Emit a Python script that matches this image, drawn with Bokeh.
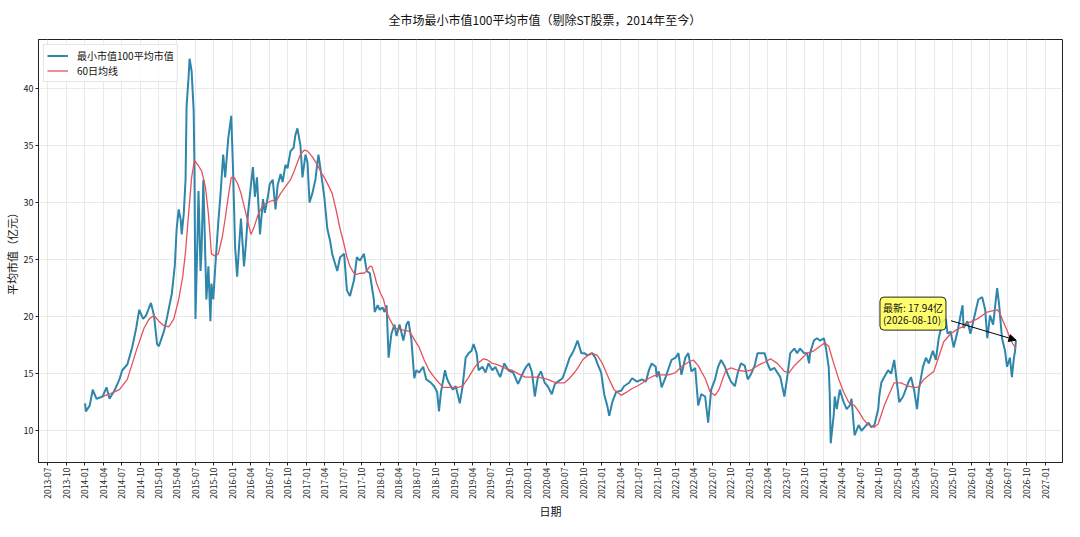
import math
import pandas as pd
from bokeh.plotting import figure
from bokeh.models import (Range1d, DatetimeTickFormatter, MonthsTicker, SingleIntervalTicker,
                          Label, Arrow, NormalHead, Legend, LegendItem)
from bokeh.embed import file_html
from bokeh.resources import INLINE

FONT = "Noto Sans CJK SC"

TITLE = "全市场最小市值100平均市值（剔除ST股票，2014年至今）"
Y_LABEL = "平均市值（亿元）"
X_LABEL = "日期"
SERIES_NAME = "最小市值100平均市值"
MA_NAME = "60日均线"

# ---- average market value of the 100 smallest stocks ----
dates = [
    "2014-01-02", "2014-01-06", "2014-01-25", "2014-02-09", "2014-02-28", "2014-03-30", "2014-04-18",
    "2014-05-03", "2014-05-27", "2014-06-21", "2014-07-05", "2014-07-30", "2014-08-23", "2014-09-12",
    "2014-09-27", "2014-10-16", "2014-10-31", "2014-11-15", "2014-11-24", "2014-12-09", "2014-12-24",
    "2015-01-02", "2015-01-27", "2015-02-10", "2015-03-07", "2015-03-22", "2015-03-31", "2015-04-10",
    "2015-04-20", "2015-04-25", "2015-05-05", "2015-05-14", "2015-05-19", "2015-05-29", "2015-06-03",
    "2015-06-13", "2015-06-23", "2015-06-27", "2015-07-02", "2015-07-12", "2015-07-17", "2015-07-27",
    "2015-08-01", "2015-08-10", "2015-08-20", "2015-08-25", "2015-09-04", "2015-09-14", "2015-09-19",
    "2015-09-28", "2015-10-08", "2015-10-23", "2015-11-02", "2015-11-16", "2015-11-26", "2015-12-11",
    "2015-12-26", "2016-01-04", "2016-01-14", "2016-01-24", "2016-02-02", "2016-02-12", "2016-02-27",
    "2016-03-08", "2016-03-18", "2016-04-01", "2016-04-11", "2016-04-21", "2016-05-01", "2016-05-16",
    "2016-05-31", "2016-06-09", "2016-06-24", "2016-07-03", "2016-07-18", "2016-08-01", "2016-08-11",
    "2016-08-26", "2016-09-05", "2016-09-19", "2016-09-29", "2016-10-14", "2016-10-29", "2016-11-07",
    "2016-11-17", "2016-12-02", "2016-12-12", "2016-12-27", "2017-01-06", "2017-01-16", "2017-01-30",
    "2017-02-14", "2017-03-01", "2017-03-10", "2017-03-20", "2017-03-30", "2017-04-14", "2017-04-28",
    "2017-05-08", "2017-05-18", "2017-06-02", "2017-06-16", "2017-07-06", "2017-07-20", "2017-08-04",
    "2017-08-24", "2017-09-07", "2017-09-22", "2017-10-12", "2017-10-26", "2017-11-10", "2017-11-30",
    "2017-12-04", "2017-12-19", "2017-12-29", "2018-01-12", "2018-01-22", "2018-02-01", "2018-02-11",
    "2018-02-25", "2018-03-12", "2018-03-22", "2018-04-06", "2018-04-25", "2018-05-10", "2018-05-20",
    "2018-06-03", "2018-06-18", "2018-06-28", "2018-07-12", "2018-08-01", "2018-08-16", "2018-09-09",
    "2018-09-24", "2018-10-09", "2018-10-18", "2018-10-28", "2018-11-17", "2018-11-26", "2018-12-06",
    "2018-12-26", "2019-01-09", "2019-01-29", "2019-02-12", "2019-02-27", "2019-03-14", "2019-03-28",
    "2019-04-07", "2019-04-22", "2019-05-02", "2019-05-21", "2019-06-05", "2019-06-20", "2019-07-09",
    "2019-07-24", "2019-08-08", "2019-08-17", "2019-09-06", "2019-09-26", "2019-10-20", "2019-11-13",
    "2019-12-08", "2019-12-23", "2020-01-06", "2020-01-21", "2020-02-04", "2020-02-19", "2020-03-05",
    "2020-03-24", "2020-04-08", "2020-04-28", "2020-05-13", "2020-05-28", "2020-06-20", "2020-07-10",
    "2020-07-25", "2020-08-08", "2020-08-18", "2020-09-02", "2020-09-21", "2020-10-06", "2020-10-21",
    "2020-11-14", "2020-11-29", "2020-12-09", "2020-12-28", "2021-01-13", "2021-01-27", "2021-02-06",
    "2021-02-21", "2021-03-12", "2021-04-06", "2021-04-20", "2021-05-15", "2021-05-30", "2021-06-23",
    "2021-07-18", "2021-08-06", "2021-08-21", "2021-09-04", "2021-09-24", "2021-09-29", "2021-10-09",
    "2021-10-23", "2021-11-12", "2021-11-27", "2021-12-11", "2021-12-31", "2022-01-14", "2022-01-29",
    "2022-02-17", "2022-03-04", "2022-03-19", "2022-04-07", "2022-04-22", "2022-05-07", "2022-05-26",
    "2022-06-10", "2022-06-25", "2022-07-14", "2022-07-29", "2022-08-13", "2022-09-01", "2022-09-16",
    "2022-10-01", "2022-10-20", "2022-11-04", "2022-11-19", "2022-12-08", "2022-12-23", "2023-01-06",
    "2023-01-26", "2023-02-09", "2023-02-24", "2023-03-16", "2023-03-30", "2023-04-14", "2023-05-04",
    "2023-05-18", "2023-06-02", "2023-06-22", "2023-07-06", "2023-07-21", "2023-08-10", "2023-08-24",
    "2023-09-08", "2023-09-27", "2023-10-12", "2023-10-22", "2023-10-27", "2023-11-15", "2023-11-30",
    "2023-12-15", "2024-01-03", "2024-01-13", "2024-01-27", "2024-02-01", "2024-02-06", "2024-02-21",
    "2024-02-26", "2024-03-07", "2024-03-22", "2024-04-10", "2024-04-25", "2024-05-10", "2024-05-19",
    "2024-06-03", "2024-06-23", "2024-07-07", "2024-07-22", "2024-08-11", "2024-08-25", "2024-09-09",
    "2024-09-28", "2024-10-03", "2024-10-13", "2024-10-28", "2024-11-16", "2024-12-01", "2024-12-16",
    "2024-12-26", "2025-01-10", "2025-01-29", "2025-02-23", "2025-03-09", "2025-03-24", "2025-04-08",
    "2025-04-17", "2025-05-07", "2025-05-22", "2025-06-05", "2025-06-25", "2025-07-10", "2025-07-24",
    "2025-08-13", "2025-08-28", "2025-09-06", "2025-09-21", "2025-10-06", "2025-10-25", "2025-11-09",
    "2025-11-19", "2025-11-24", "2025-12-13", "2025-12-28", "2026-01-11", "2026-02-05", "2026-02-24",
    "2026-03-11", "2026-03-21", "2026-04-04", "2026-04-19", "2026-05-09", "2026-05-19", "2026-06-02",
    "2026-06-17", "2026-06-27", "2026-07-11", "2026-07-21", "2026-07-31", "2026-08-05", "2026-08-10",
]
values = [
    12.4, 11.7, 12.2, 13.6, 12.8, 13.0, 13.8,
    12.8, 13.5, 14.5, 15.3, 15.8, 17.3, 19.0,
    20.6, 19.8, 20.1, 20.8, 21.2, 20.1, 17.6,
    17.4, 18.7, 19.8, 22.0, 24.5, 27.7, 29.4,
    28.5, 27.2, 29.0, 32.0, 38.4, 41.0, 42.6,
    41.5, 38.1, 33.0, 19.8, 27.0, 31.0, 24.0,
    25.7, 32.0, 25.0, 21.5, 24.4, 19.6, 22.9,
    21.5, 24.4, 28.3, 30.5, 34.2, 32.2, 35.6,
    37.6, 32.8, 26.1, 23.5, 26.0, 28.6, 24.4,
    26.5, 29.1, 31.5, 33.1, 30.5, 32.2, 27.2,
    30.3, 29.1, 30.5, 31.6, 32.0, 29.4, 31.5,
    32.5, 31.8, 33.3, 33.0, 34.5, 34.8, 35.9,
    36.5, 35.0, 32.2, 34.2, 33.5, 30.0, 30.8,
    32.0, 34.2, 33.1, 31.8, 30.5, 27.7, 26.6,
    25.5, 24.9, 24.0, 25.2, 25.5, 22.3, 21.8,
    23.2, 25.2, 24.9, 25.5, 24.0, 23.8, 21.5,
    20.4, 21.0, 20.6, 20.8, 20.4, 21.0, 16.4,
    18.5, 19.3, 18.3, 19.3, 17.9, 19.3, 19.6,
    18.1, 14.6, 15.3, 15.1, 15.6, 14.5, 14.2,
    13.9, 13.4, 11.7, 13.4, 15.3, 14.6, 14.2,
    13.6, 13.9, 12.4, 13.9, 16.4, 16.8, 17.0,
    17.6, 16.8, 15.3, 15.6, 15.1, 15.9, 15.3,
    15.6, 15.0, 14.7, 15.9, 15.3, 15.1, 14.1,
    15.1, 15.6, 15.9, 15.1, 13.0, 14.7, 15.2,
    14.2, 13.9, 13.2, 14.1, 14.3, 14.6, 15.6,
    16.4, 16.8, 17.2, 17.9, 16.8, 16.8, 16.6,
    16.8, 16.4, 15.9, 15.1, 13.1, 12.2, 11.3,
    12.5, 13.4, 13.5, 13.9, 14.2, 14.6, 14.3,
    14.5, 14.3, 15.3, 15.9, 15.6, 14.7, 15.2,
    13.8, 14.7, 15.5, 16.2, 16.4, 16.8, 14.9,
    16.4, 16.8, 15.2, 15.5, 12.2, 13.2, 13.0,
    10.7, 13.6, 14.5, 15.6, 16.2, 15.6, 14.9,
    14.3, 13.9, 15.1, 15.9, 15.7, 14.5, 14.9,
    15.7, 16.8, 16.8, 16.8, 15.9, 15.3, 15.5,
    15.1, 14.7, 13.0, 14.7, 16.8, 17.2, 16.8,
    17.2, 16.8, 16.8, 15.9, 16.8, 17.9, 18.1,
    17.9, 18.1, 17.3, 15.6, 13.4, 8.9, 11.4,
    13.0, 11.9, 13.6, 12.5, 11.9, 12.2, 12.8,
    9.6, 10.5, 10.0, 10.3, 10.7, 10.3, 10.5,
    11.9, 13.0, 14.2, 14.7, 15.3, 15.0, 16.2,
    14.7, 12.5, 13.0, 14.2, 14.7, 13.6, 11.9,
    13.6, 15.6, 16.4, 15.9, 17.0, 16.2, 18.1,
    19.6, 19.8, 18.5, 18.7, 17.3, 18.7, 20.1,
    21.0, 19.0, 19.6, 18.5, 19.6, 21.5, 21.7,
    20.6, 18.1, 20.1, 19.3, 22.5, 21.0, 18.1,
    17.0, 15.6, 16.4, 14.7, 16.4, 16.9, 17.94,
]

# ---- 60-day moving average ----
ma_dates = [
    "2014-03-30", "2014-05-03", "2014-06-21", "2014-07-30", "2014-09-12", "2014-10-21", "2014-11-15",
    "2014-12-09", "2015-01-02", "2015-01-27", "2015-02-20", "2015-03-17", "2015-04-10", "2015-04-30",
    "2015-05-14", "2015-05-29", "2015-06-13", "2015-06-27", "2015-07-17", "2015-08-01", "2015-08-20",
    "2015-09-04", "2015-09-19", "2015-10-08", "2015-10-23", "2015-11-12", "2015-11-26", "2015-12-11",
    "2015-12-26", "2016-01-09", "2016-01-28", "2016-02-12", "2016-03-08", "2016-04-01", "2016-04-16",
    "2016-05-06", "2016-05-31", "2016-06-24", "2016-07-18", "2016-08-01", "2016-08-26", "2016-09-19",
    "2016-10-14", "2016-11-02", "2016-11-17", "2016-12-02", "2016-12-21", "2017-01-06", "2017-01-30",
    "2017-02-24", "2017-03-15", "2017-03-30", "2017-04-19", "2017-05-08", "2017-05-28", "2017-06-16",
    "2017-07-06", "2017-07-20", "2017-08-04", "2017-08-24", "2017-09-07", "2017-09-22", "2017-10-12",
    "2017-10-26", "2017-11-10", "2017-11-20", "2017-12-04", "2017-12-14", "2018-01-03", "2018-01-17",
    "2018-02-01", "2018-02-16", "2018-03-12", "2018-04-06", "2018-04-30", "2018-05-25", "2018-06-18",
    "2018-07-12", "2018-08-06", "2018-08-30", "2018-09-24", "2018-10-18", "2018-11-07", "2018-11-26",
    "2018-12-26", "2019-01-19", "2019-02-12", "2019-02-27", "2019-03-14", "2019-04-07", "2019-04-27",
    "2019-05-26", "2019-06-15", "2019-07-09", "2019-08-03", "2019-08-27", "2019-09-20", "2019-10-15",
    "2019-11-13", "2019-12-18", "2020-01-21", "2020-02-19", "2020-03-15", "2020-04-08", "2020-05-03",
    "2020-05-28", "2020-06-30", "2020-07-25", "2020-08-18", "2020-09-07", "2020-09-27", "2020-10-16",
    "2020-11-10", "2020-12-09", "2021-01-03", "2021-01-22", "2021-02-11", "2021-03-02", "2021-03-22",
    "2021-04-06", "2021-05-05", "2021-05-30", "2021-06-23", "2021-07-22", "2021-08-21", "2021-09-14",
    "2021-10-09", "2021-11-02", "2021-11-27", "2021-12-31", "2022-01-29", "2022-03-04", "2022-03-29",
    "2022-04-22", "2022-05-07", "2022-05-26", "2022-06-20", "2022-07-14", "2022-08-03", "2022-08-22",
    "2022-09-06", "2022-10-01", "2022-11-04", "2022-12-08", "2023-01-06", "2023-02-09", "2023-03-16",
    "2023-04-14", "2023-05-18", "2023-06-22", "2023-07-16", "2023-08-10", "2023-09-08", "2023-10-12",
    "2023-11-15", "2023-12-15", "2024-01-08", "2024-01-27", "2024-02-21", "2024-03-17", "2024-04-10",
    "2024-05-05", "2024-06-03", "2024-06-23", "2024-07-17", "2024-08-11", "2024-09-09", "2024-09-28",
    "2024-10-13", "2024-10-28", "2024-11-16", "2024-12-16", "2025-01-19", "2025-02-23", "2025-03-24",
    "2025-04-13", "2025-05-12", "2025-06-15", "2025-06-30", "2025-07-19", "2025-08-18", "2025-09-21",
    "2025-10-25", "2025-11-19", "2025-12-13", "2026-01-31", "2026-02-24", "2026-03-21", "2026-04-14",
    "2026-05-09", "2026-05-23", "2026-06-07", "2026-06-27", "2026-07-11", "2026-07-26", "2026-08-10",
]
ma_values = [
    13.0, 13.2, 13.6, 14.5, 17.0, 19.0, 19.8,
    20.1, 19.6, 19.2, 19.1, 19.8, 21.5, 23.5,
    25.7, 29.0, 32.2, 33.7, 33.2, 32.8, 31.4,
    29.0, 25.5, 25.3, 25.5, 27.0, 28.6, 30.5,
    32.2, 32.2, 31.6, 30.8, 29.0, 27.2, 27.8,
    28.9, 29.8, 30.0, 30.2, 30.0, 30.8, 31.4,
    32.0, 32.8, 33.5, 34.2, 34.6, 34.5, 34.0,
    33.3, 32.6, 32.2, 31.5, 30.8, 29.3, 27.7,
    26.3, 25.2, 24.4, 23.8, 23.7, 23.8, 23.8,
    24.0, 24.4, 24.4, 23.6, 22.9, 22.0, 21.5,
    20.4, 19.8, 19.0, 18.9, 18.8, 18.7, 18.0,
    17.3, 16.2, 15.3, 14.7, 14.2, 13.8, 13.8,
    13.8, 13.8, 13.9, 14.3, 14.7, 15.4, 15.9,
    16.3, 16.2, 15.9, 15.8, 15.6, 15.4, 15.3,
    15.0, 14.7, 14.7, 14.7, 14.6, 14.5, 14.3,
    14.2, 14.2, 14.6, 15.1, 15.6, 16.2, 16.5,
    16.8, 16.6, 15.9, 15.1, 14.3, 13.6, 13.3,
    13.1, 13.4, 13.7, 13.9, 14.2, 14.6, 14.8,
    14.9, 14.9, 14.9, 15.1, 15.6, 16.0, 16.2,
    15.7, 15.2, 14.6, 13.4, 13.1, 13.6, 14.6,
    15.3, 15.5, 15.3, 15.2, 15.3, 15.7, 16.0,
    16.3, 15.9, 15.2, 15.1, 15.7, 16.2, 16.8,
    17.0, 17.4, 17.7, 17.4, 15.9, 14.5, 13.4,
    12.5, 12.2, 11.7, 11.0, 10.5, 10.3, 10.6,
    11.4, 12.2, 13.0, 14.2, 14.2, 13.9, 13.8,
    13.8, 14.5, 15.0, 15.2, 16.2, 17.8, 18.5,
    18.9, 19.1, 19.4, 19.8, 20.1, 20.4, 20.5,
    20.6, 20.3, 19.6, 18.8, 18.1, 17.6, 17.2,
]

# annotation placement (screen px offsets / data offsets of the callout)
NOTE_X_OFFSET = -136
NOTE_Y_OFFSET = 43
ARROW_DX_DAYS = -321
ARROW_DY = 1.7

d = pd.to_datetime(dates)
md = pd.to_datetime(ma_dates)

span = d[-1] - d[0]
x_start = (d[0] - span * 0.05).to_pydatetime()
x_end = (d[-1] + span * 0.05).to_pydatetime()
vmin, vmax = min(values), max(values)
y_start = vmin - (vmax - vmin) * 0.05
y_end = vmax + (vmax - vmin) * 0.05

p = figure(width=1064, height=521, x_axis_type="datetime",
           x_range=Range1d(x_start, x_end), y_range=Range1d(y_start, y_end),
           output_backend="svg", toolbar_location=None,
           min_border_left=37, min_border_right=2, min_border_top=37, min_border_bottom=50)

p.background_fill_color = "white"
p.border_fill_color = "white"
p.outline_line_color = "#222222"
p.outline_line_width = 1

p.title.text = TITLE
p.title.align = "left"
p.title.offset = 350
p.title.text_font = FONT
p.title.text_font_size = "12px"
p.title.text_font_style = "normal"
p.title.text_color = "#111111"
p.title.standoff = 20
p.title.vertical_align = "top"

r1 = p.line(d, values, line_color="#2E86AB", line_width=2.0)
r2 = p.line(md, ma_values, line_color="#E4535D", line_width=1.3)

legend = Legend(items=[LegendItem(label=SERIES_NAME, renderers=[r1]),
                       LegendItem(label=MA_NAME, renderers=[r2])],
                location="top_left")
legend.label_text_font = FONT
legend.label_text_font_size = "10px"
legend.label_text_color = "#111111"
legend.glyph_width = 21
legend.glyph_height = 11
legend.label_height = 11
legend.label_standoff = 9
legend.spacing = 0
legend.padding = 3
legend.margin = 5
legend.border_line_color = "#cccccc"
legend.border_line_width = 1
legend.background_fill_alpha = 0.85
p.add_layout(legend)

quarter_ticker = MonthsTicker(months=[0, 3, 6, 9])
p.xaxis.ticker = quarter_ticker
p.xgrid.ticker = quarter_ticker
fmt = "%Y-%m"
p.xaxis.formatter = DatetimeTickFormatter(years=fmt, months=fmt, days=fmt, hours=fmt,
                                          hourmin=fmt, minutes=fmt, minsec=fmt, seconds=fmt,
                                          milliseconds=fmt, microseconds=fmt)
p.xaxis.major_label_orientation = math.pi / 2
p.yaxis.ticker = SingleIntervalTicker(interval=5, num_minor_ticks=0)

for ax in (p.xaxis, p.yaxis):
    ax.major_label_text_font = FONT
    ax.major_label_text_color = "#222222"
    ax.axis_label_text_font = FONT
    ax.axis_label_text_font_size = "11px"
    ax.axis_label_text_font_style = "normal"
    ax.axis_label_text_color = "#111111"
    ax.axis_line_color = "#222222"
    ax.major_tick_line_color = "#222222"
    ax.major_tick_out = 3
    ax.major_tick_in = 0
    ax.minor_tick_line_color = None
    ax.major_label_standoff = 2

p.xaxis.major_label_text_font_size = "8.5px"
p.yaxis.major_label_text_font_size = "9px"
p.xaxis.axis_label_standoff = 1
p.yaxis.axis_label_standoff = 1

p.xaxis.axis_label = X_LABEL
p.yaxis.axis_label = Y_LABEL

for g in (p.xgrid, p.ygrid):
    g.grid_line_color = "#e4e4e4"
    g.grid_line_width = 0.8

last_date = d[-1]
last_val = values[-1]
note_text = f"最新: {last_val:.2f}亿\n({dates[-1]})"
note = Label(x=last_date, y=last_val, x_offset=NOTE_X_OFFSET, y_offset=NOTE_Y_OFFSET,
             text=note_text, text_font=FONT, text_font_size="10px", text_color="#111111",
             text_align="left", text_baseline="top", text_line_height=0.8,
             background_fill_color="#ffff55", background_fill_alpha=0.85,
             border_line_color="#222222", border_line_width=1,
             padding=3, border_radius=4)
p.add_layout(note)

arrow = Arrow(x_start=last_date + pd.Timedelta(days=ARROW_DX_DAYS), y_start=last_val + ARROW_DY,
              x_end=last_date, y_end=last_val,
              line_color="black", line_width=1,
              end=NormalHead(size=7, fill_color="black", line_color="black"))
p.add_layout(arrow)

open("out.html", "w").write(file_html(p, INLINE))
